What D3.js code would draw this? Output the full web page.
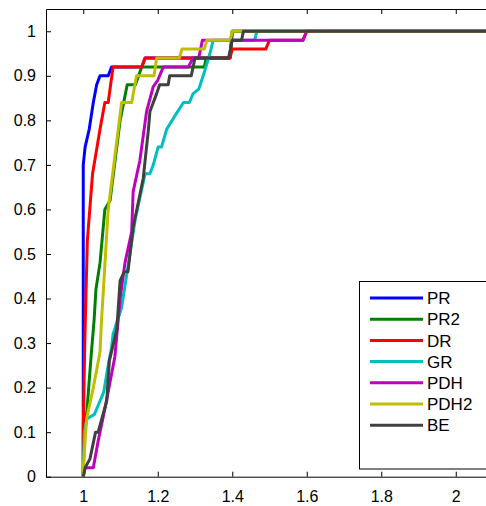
<!DOCTYPE html>
<html>
<head>
<meta charset="utf-8">
<script src="https://cdn.jsdelivr.net/npm/d3@7"></script>
<style>
  body { margin: 0; background: #fff; }
  svg { display: block; font-family: "Liberation Sans", Arial, sans-serif; }
</style>
</head>
<body>
<div id="chart"></div>
<script>
const W = 486, H = 506;

// performance profile: [ratio, fraction of problems]
const names = ["PR", "PR2", "DR", "GR", "PDH", "PDH2", "BE"];
const colors = ["#0000ff", "#008000", "#ff0000", "#00bfbf", "#bf00bf", "#bfbf00", "#404040"];

const PR = [[1,0],[1,0.70],[1.005,0.74],[1.016,0.78],[1.027,0.84],[1.036,0.88],[1.045,0.90],[1.067,0.90],[1.076,0.92],
  [1.157,0.92],[1.166,0.94],[1.394,0.94],[1.40,1],[2.1,1]];
const PR2 = [[1,0],[1.003,0.10],[1.01,0.15],[1.022,0.28],[1.029,0.35],[1.034,0.42],[1.045,0.48],[1.058,0.60],[1.072,0.62],
  [1.099,0.80],[1.118,0.88],[1.14,0.88],[1.157,0.92],[1.325,0.92],[1.33,0.94],[1.394,0.94],[1.40,1],[2.1,1]];
const DR = [[1,0],[1,0.10],[1.004,0.30],[1.011,0.53],[1.025,0.68],[1.045,0.78],[1.058,0.84],[1.067,0.84],[1.08,0.92],
  [1.157,0.92],[1.166,0.94],[1.394,0.94],[1.40,0.96],[1.49,0.96],[1.50,0.98],[1.59,0.98],[1.60,1],[2.1,1]];
const GR = [[1,0],[1.003,0.10],[1.01,0.13],[1.03,0.14],[1.045,0.17],[1.055,0.19],[1.067,0.25],[1.076,0.29],[1.08,0.32],
  [1.103,0.38],[1.14,0.58],[1.166,0.68],[1.179,0.68],[1.188,0.70],[1.201,0.74],[1.21,0.74],[1.224,0.78],[1.246,0.81],
  [1.269,0.84],[1.285,0.84],[1.295,0.86],[1.31,0.87],[1.322,0.90],[1.34,0.95],[1.349,0.98],[1.46,0.98],[1.466,1],[2.1,1]];
const PDH = [[1,0],[1.005,0.02],[1.027,0.02],[1.04,0.08],[1.045,0.10],[1.06,0.16],[1.085,0.27],[1.099,0.40],[1.112,0.48],
  [1.13,0.55],[1.134,0.64],[1.152,0.71],[1.17,0.82],[1.188,0.876],[1.20,0.89],[1.215,0.92],[1.282,0.92],[1.295,0.94],
  [1.31,0.94],[1.32,0.98],[1.59,0.98],[1.60,1],[2.1,1]];
const PDH2 = [[1,0],[1.0,0.02],[1.009,0.13],[1.027,0.20],[1.045,0.28],[1.049,0.35],[1.067,0.60],[1.094,0.78],[1.103,0.84],
  [1.13,0.84],[1.143,0.90],[1.19,0.90],[1.197,0.94],[1.258,0.94],[1.265,0.96],[1.325,0.96],[1.332,0.98],[1.394,0.98],
  [1.40,1],[2.1,1]];
const BE = [[1,0],[1.005,0.02],[1.018,0.04],[1.033,0.10],[1.04,0.10],[1.063,0.17],[1.07,0.26],[1.09,0.33],[1.099,0.44],
  [1.11,0.46],[1.12,0.46],[1.134,0.56],[1.161,0.67],[1.175,0.78],[1.179,0.82],[1.197,0.86],[1.205,0.88],[1.228,0.88],
  [1.232,0.90],[1.29,0.90],[1.30,0.94],[1.39,0.94],[1.395,0.96],[1.40,0.98],[1.425,0.98],[1.43,1],[2.1,1]];
const series = [PR, PR2, DR, GR, PDH, PDH2, BE];

const xTicks = [1, 1.2, 1.4, 1.6, 1.8, 2];
const yTicks = [0, 0.1, 0.2, 0.3, 0.4, 0.5, 0.6, 0.7, 0.8, 0.9, 1];

const x = d3.scaleLinear().domain([0.9, 2.1]).range([46, 493]);
const y = d3.scaleLinear().domain([0, 1.05]).range([476.7, 9]);

const svg = d3.select('#chart').append('svg')
  .attr('width', W).attr('height', H);

svg.append('defs').append('clipPath').attr('id', 'clip')
  .append('rect')
  .attr('x', x.range()[0]).attr('y', y.range()[1])
  .attr('width', x.range()[1] - x.range()[0])
  .attr('height', y.range()[0] - y.range()[1]);

const fmt = d3.format('~g');

// axes, ticks inside like matlab
const xAxis = svg.append('g').attr('transform', `translate(0,${y(0)})`)
  .call(d3.axisBottom(x).tickValues(xTicks).tickFormat(fmt).tickSizeInner(-5).tickSizeOuter(0).tickPadding(14));
const xTop = svg.append('g').attr('transform', `translate(0,${y.range()[1]})`)
  .call(d3.axisTop(x).tickValues(xTicks).tickFormat('').tickSizeInner(-5).tickSizeOuter(0));
const yAxis = svg.append('g').attr('transform', `translate(${x.range()[0]},0)`)
  .call(d3.axisLeft(y).tickValues(yTicks).tickFormat(fmt).tickSizeInner(-5).tickSizeOuter(0).tickPadding(10));

[xAxis, xTop, yAxis].forEach(g => {
  g.select('.domain').attr('stroke', '#000').attr('stroke-width', 1);
  g.selectAll('.tick line').attr('stroke', '#000');
  g.selectAll('text').attr('font-size', 16).attr('fill', '#000')
    .attr('font-family', '"Liberation Sans", Arial, sans-serif');
});

const line = d3.line().x(d => x(d[0])).y(d => y(d[1]));

svg.append('g').attr('clip-path', 'url(#clip)')
  .selectAll('path')
  .data(series)
  .join('path')
  .attr('d', line)
  .attr('fill', 'none')
  .attr('stroke', (d, i) => colors[i])
  .attr('stroke-width', 3)
  .attr('stroke-linejoin', 'round');

// legend
const lg = svg.append('g');
lg.append('rect')
  .attr('x', 359.5).attr('y', 281.5).attr('width', 140).attr('height', 187.5)
  .attr('fill', '#fff').attr('stroke', '#000');

const rows = lg.selectAll('g.row')
  .data(names)
  .join('g')
  .attr('class', 'row')
  .attr('transform', (d, i) => `translate(0,${298 + i * 21.2})`);

rows.append('line')
  .attr('x1', 370).attr('x2', 423)
  .attr('stroke', (d, i) => colors[i])
  .attr('stroke-width', 3);

rows.append('text')
  .attr('x', 427).attr('dy', '0.36em')
  .attr('font-size', 17)
  .text(d => d);
</script>
</body>
</html>
